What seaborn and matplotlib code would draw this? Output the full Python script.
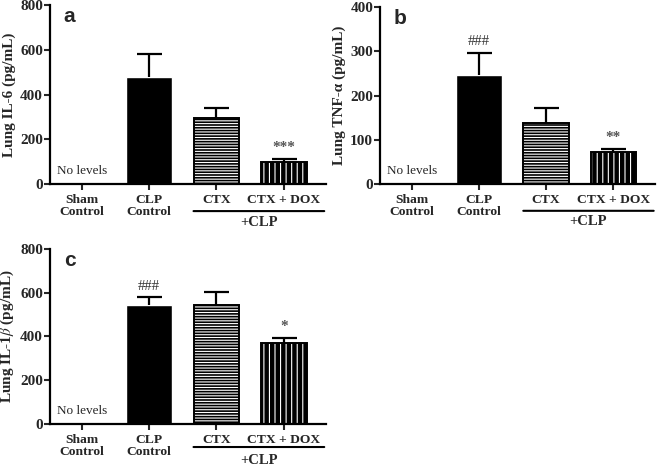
import matplotlib
matplotlib.use("Agg")
import matplotlib.pyplot as plt
from matplotlib.patches import Rectangle
import seaborn as sns
import pandas as pd

groups = ["Sham\nControl", "CLP\nControl", "CTX", "CTX + DOX"]
il6_mean = [0, 480, 295, 98]
il6_err = [0, 100, 45, 15]
tnf_mean = [0, 247, 138, 73]
tnf_err = [0, 50, 34, 7]
il1b_mean = [0, 543, 543, 368]
il1b_err = [0, 37, 62, 27]

sns.set_style("ticks")
plt.rcParams['font.family'] = ['Liberation Serif', 'DejaVu Serif']
plt.rcParams['mathtext.fontset'] = 'stix'
plt.rcParams['hatch.linewidth'] = 0.8


def draw_panel(ax, mean, err, ylabel, ymax, step, letter, mark_clp, mark_dox,
               line_y, text_y):
    df = pd.DataFrame({'group': groups, 'value': mean})
    sns.barplot(data=df, x='group', y='value', color='black', errorbar=None,
                width=0.68, ax=ax, saturation=1)
    bars = list(ax.patches)
    for bar, hatch in [(bars[2], '------'), (bars[3], '|||')]:
        bar.set_edgecolor('white')
        bar.set_hatch(hatch)
        bar.set_linewidth(0)
        # black outline around hatched bar
        ax.add_patch(Rectangle(bar.get_xy(), bar.get_width(), bar.get_height(),
                               fill=False, ec='black', lw=1.4, zorder=bar.zorder + 0.1))
    _, caps, _ = ax.errorbar([1, 2, 3], mean[1:], yerr=[[0, 0, 0], err[1:]],
                             fmt='none', ecolor='black', elinewidth=1.6,
                             capsize=9, capthick=1.6)
    # keep only the upper caps
    caps[0].remove()
    ax.set_xlim(-0.47, 3.62)
    ax.set_ylim(0, ymax)
    ax.set_yticks(range(0, ymax + 1, step))
    ax.set_xlabel('')
    ax.set_ylabel(ylabel, fontsize=11, fontweight='bold', labelpad=3)
    ax.tick_params(axis='y', labelsize=11, width=1.5, length=4, pad=1)
    ax.tick_params(axis='x', labelsize=9.7, width=1.5, length=4, pad=3)
    for t in ax.get_xticklabels():
        t.set_fontweight('bold')
        t.set_linespacing(1.0)
    for t in ax.get_yticklabels():
        t.set_fontweight('bold')
    sns.despine(ax=ax)
    for s in ['left', 'bottom']:
        ax.spines[s].set_linewidth(1.6)
        ax.spines[s].set_color('black')
    ax.text(0, ymax * 0.04, 'No levels', ha='center', va='bottom', fontsize=9.5)
    ax.text(0.05, 0.99, letter, transform=ax.transAxes, ha='left', va='top',
            fontsize=15, fontweight='bold', family='Liberation Sans')
    if mark_clp:
        ax.text(1, mean[1] + err[1] + ymax * 0.025, mark_clp, ha='center',
                va='bottom', fontsize=10.5, color='#333333')
    if mark_dox:
        ax.text(3, mean[3] + err[3] + ymax * 0.025, mark_dox, ha='center',
                va='bottom', fontsize=11, color='#555555', fontweight='bold')
    # +CLP bracket under the two treated groups
    ax.annotate('', xy=(1.66, line_y), xytext=(3.6, line_y),
                xycoords=('data', 'axes fraction'),
                arrowprops=dict(arrowstyle='-', lw=1.5, color='black',
                                shrinkA=0, shrinkB=0))
    ax.text(2.63, text_y, '+CLP', transform=ax.get_xaxis_transform(),
            ha='center', va='center', fontsize=10.5, fontweight='bold')


fig = plt.figure(figsize=(6.61, 4.66), dpi=100)
ax_a = fig.add_axes([0.0756, 0.605, 0.417, 0.384])
ax_b = fig.add_axes([0.575, 0.605, 0.416, 0.380])
ax_c = fig.add_axes([0.0756, 0.090, 0.417, 0.376])

draw_panel(ax_a, il6_mean, il6_err, 'Lung IL-6 (pg/mL)', 800, 200, 'a', None,
           '***', -0.151, -0.212)
draw_panel(ax_b, tnf_mean, tnf_err, 'Lung TNF-α (pg/mL)', 400, 100, 'b', '###',
           '**', -0.151, -0.212)
draw_panel(ax_c, il1b_mean, il1b_err, r'Lung IL-1$\beta$ (pg/mL)', 800, 200, 'c',
           '###', '*', -0.131, -0.206)

fig.savefig('out.png', dpi=100)
